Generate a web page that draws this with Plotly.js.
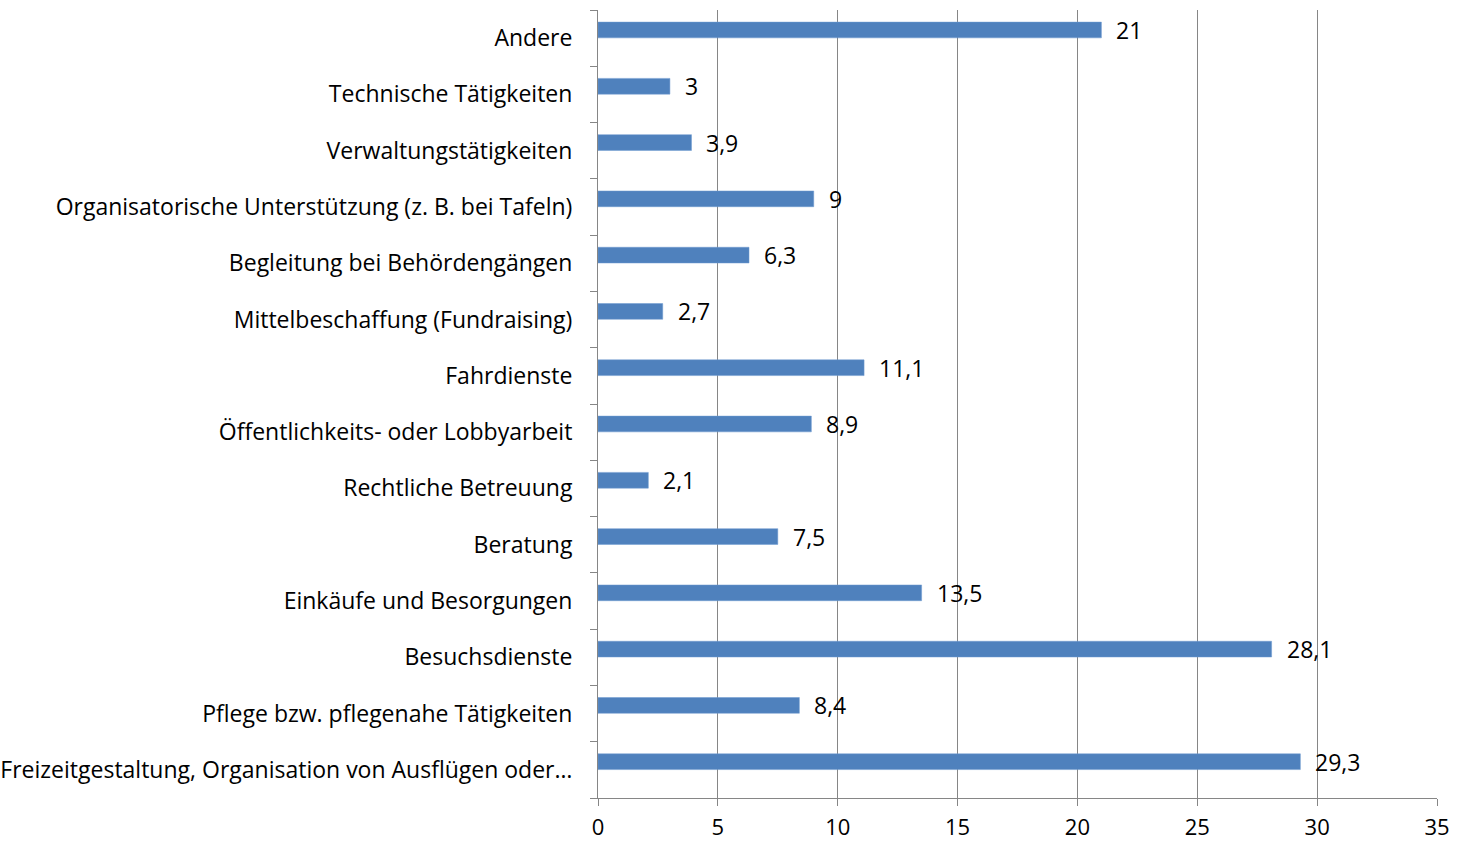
<!DOCTYPE html>
<html>
<head>
<meta charset="utf-8">
<script src="https://cdn.plot.ly/plotly-3.0.1.min.js"></script>
<style>html,body{margin:0;padding:0;background:#fff;}#chart{width:1460px;height:843px;}</style>
</head>
<body>
<div id="chart"></div>
<script>
// Categories listed bottom-to-top (Plotly draws the first category at the bottom)
const categories = [
  "Freizeitgestaltung, Organisation von Ausflügen oder…",
  "Pflege bzw. pflegenahe Tätigkeiten",
  "Besuchsdienste",
  "Einkäufe und Besorgungen",
  "Beratung",
  "Rechtliche Betreuung",
  "Öffentlichkeits- oder Lobbyarbeit",
  "Fahrdienste",
  "Mittelbeschaffung (Fundraising)",
  "Begleitung bei Behördengängen",
  "Organisatorische Unterstützung (z. B. bei Tafeln)",
  "Verwaltungstätigkeiten",
  "Technische Tätigkeiten",
  "Andere"
];
const values = [29.3, 8.4, 28.1, 13.5, 7.5, 2.1, 8.9, 11.1, 2.7, 6.3, 9, 3.9, 3, 21];
const xTicks = [0, 5, 10, 15, 20, 25, 30, 35];

const FONT = "Open Sans, sans-serif";
const FS = 23;
const BAR_W = 0.28, BAR_OFF = 0.005;

const trace = {
  type: "bar",
  orientation: "h",
  x: values,
  y: categories,
  width: BAR_W,
  offset: BAR_OFF,
  marker: {color: "#4F81BD", line: {color: "#6f9bd0", width: 0.5}},
  hoverinfo: "x+y"
};

const annotations = values.map((v, i) => ({
  x: v, y: i + BAR_OFF + BAR_W / 2,
  xref: "x", yref: "y",
  text: String(v).replace(".", ","),
  showarrow: false,
  xanchor: "left", yanchor: "middle",
  xshift: 13,
  font: {family: FONT, size: FS, color: "#000"}
}));

const layout = {
  width: 1460, height: 843,
  margin: {l: 598, r: 23, t: 10, b: 45, pad: 0},
  paper_bgcolor: "#fff", plot_bgcolor: "#fff",
  showlegend: false,
  separators: ",.",
  font: {family: FONT, size: FS, color: "#000"},
  xaxis: {
    range: [0, 35],
    tickvals: xTicks,
    ticktext: xTicks.map(String),
    showgrid: true, gridcolor: "#868686", gridwidth: 1,
    zeroline: false,
    showline: true, linecolor: "#868686", linewidth: 1,
    ticks: "outside", ticklen: 7, tickcolor: "#868686",
    tickfont: {family: FONT, size: 22, color: "#000"},
    ticklabelstandoff: 3,
    fixedrange: true
  },
  yaxis: {
    type: "category",
    categoryorder: "array", categoryarray: categories,
    range: [-0.5, categories.length - 0.5],
    showgrid: false, zeroline: false,
    showline: true, linecolor: "#868686", linewidth: 1,
    ticks: "outside", ticklen: 7, tickcolor: "#868686",
    tickson: "boundaries",
    tickfont: {family: FONT, size: FS, color: "#000"},
    ticklabelstandoff: 20,
    automargin: false,
    fixedrange: true
  },
  annotations: annotations
};

Plotly.newPlot("chart", [trace], layout, {displayModeBar: false, staticPlot: true});
</script>
</body>
</html>
